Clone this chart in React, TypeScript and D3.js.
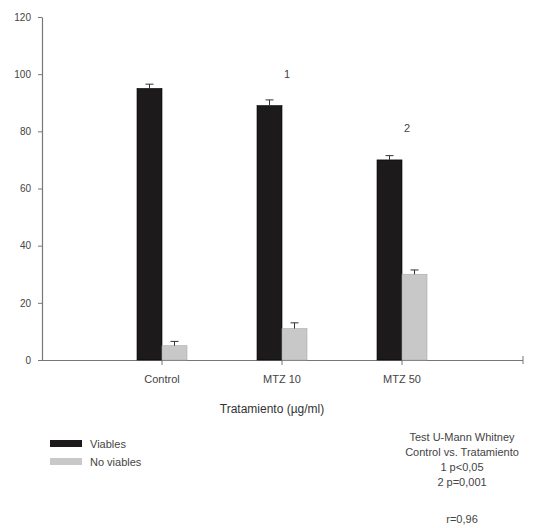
import React, { useRef, useEffect } from 'react';
import * as d3 from 'd3';

// data
const categories = ['Control', 'MTZ 10', 'MTZ 50'];
const viables = [95, 89, 70];
const viablesErr = [1.5, 2, 1.5];
const noViables = [5, 11, 30];
const noViablesErr = [1.5, 2, 1.5];
const marks = ['', '1', '2'];
const yTicks = [0, 20, 40, 60, 80, 100, 120];
const statsLines = ['Test U-Mann Whitney', 'Control vs. Tratamiento', '1 p<0,05', '2 p=0,001'];

const App = () => {
  const svgRef = useRef<SVGSVGElement>(null);

  useEffect(() => {
    const width = 541;
    const height = 528;
    const font = '"Liberation Sans", Arial, sans-serif';
    const textCol = '#444';
    const axisCol = '#777';

    const svg = d3.select(svgRef.current)
      .attr('width', width)
      .attr('height', height);
    svg.selectAll('*').remove();

    const y = d3.scaleLinear().domain([0, 120]).range([360, 17]);
    const x = d3.scaleBand().domain(categories).range([42, 402]).paddingInner(0).paddingOuter(0);
    const barW = 25;
    const center = (c: string) => (x(c) ?? 0) + x.bandwidth() / 2 + 60;

    // y axis
    const yAxis = svg.append('g').attr('transform', 'translate(42,0)')
      .call(d3.axisLeft(y).tickValues(yTicks).tickSize(4).tickSizeOuter(0));
    yAxis.select('.domain').attr('stroke', axisCol).attr('stroke-width', 1.2);
    yAxis.selectAll('line').attr('stroke', axisCol);
    yAxis.selectAll('text').attr('font-family', font).attr('font-size', 10)
      .attr('fill', textCol).attr('dx', -4);

    // x axis line
    svg.append('line').attr('x1', 42).attr('x2', 523).attr('y1', 360.5).attr('y2', 360.5)
      .attr('stroke', axisCol).attr('stroke-width', 1.2);
    svg.append('line').attr('x1', 523).attr('x2', 523).attr('y1', 356).attr('y2', 364)
      .attr('stroke', axisCol);
    categories.forEach(c => {
      svg.append('line').attr('x1', center(c)).attr('x2', center(c))
        .attr('y1', 360).attr('y2', 365).attr('stroke', axisCol);
      svg.append('text').attr('x', center(c)).attr('y', 383).attr('text-anchor', 'middle')
        .attr('font-family', font).attr('font-size', 11).attr('fill', textCol).text(c);
    });

    const drawBars = (vals: number[], errs: number[], fill: string, offset: number) => {
      categories.forEach((c, i) => {
        const bx = center(c) + offset;
        svg.append('rect').attr('x', bx).attr('y', y(vals[i]))
          .attr('width', barW).attr('height', y(0) - y(vals[i]))
          .attr('fill', fill).attr('stroke', fill === '#1c1a1a' ? '#000' : '#aaa').attr('stroke-width', 0.6);
        const cx = bx + barW / 2;
        svg.append('line').attr('x1', cx).attr('x2', cx)
          .attr('y1', y(vals[i])).attr('y2', y(vals[i] + errs[i])).attr('stroke', '#333');
        svg.append('line').attr('x1', cx - 4).attr('x2', cx + 4)
          .attr('y1', y(vals[i] + errs[i])).attr('y2', y(vals[i] + errs[i])).attr('stroke', '#333');
      });
    };
    drawBars(viables, viablesErr, '#1c1a1a', -barW);
    drawBars(noViables, noViablesErr, '#c8c8c8', 0);

    // significance marks
    categories.forEach((c, i) => {
      if (!marks[i]) return;
      svg.append('text').attr('x', center(c) + 5).attr('y', y(viables[i]) - 28)
        .attr('text-anchor', 'middle').attr('font-family', font).attr('font-size', 11)
        .attr('fill', textCol).text(marks[i]);
    });

    // x title
    svg.append('text').attr('x', 272).attr('y', 413).attr('text-anchor', 'middle')
      .attr('font-family', font).attr('font-size', 12).attr('fill', '#333')
      .text('Tratamiento (µg/ml)');

    // legend
    const legend = [
      { label: 'Viables', fill: '#1c1a1a' },
      { label: 'No viables', fill: '#c8c8c8' },
    ];
    legend.forEach((d, i) => {
      const ly = 440 + i * 18;
      svg.append('rect').attr('x', 50).attr('y', ly).attr('width', 32).attr('height', 7).attr('fill', d.fill);
      svg.append('text').attr('x', 90).attr('y', ly + 8).attr('font-family', font)
        .attr('font-size', 11).attr('fill', textCol).text(d.label);
    });

    // stats note
    statsLines.forEach((t, i) => {
      svg.append('text').attr('x', 462).attr('y', 441 + i * 15).attr('text-anchor', 'middle')
        .attr('font-family', font).attr('font-size', 11).attr('fill', textCol).text(t);
    });
    svg.append('text').attr('x', 462).attr('y', 523).attr('text-anchor', 'middle')
      .attr('font-family', font).attr('font-size', 11).attr('fill', textCol).text('r=0,96');
  }, []);

  return <svg ref={svgRef} style={{ position: 'absolute', left: 0, top: 0 }}></svg>;
};

export default App;
